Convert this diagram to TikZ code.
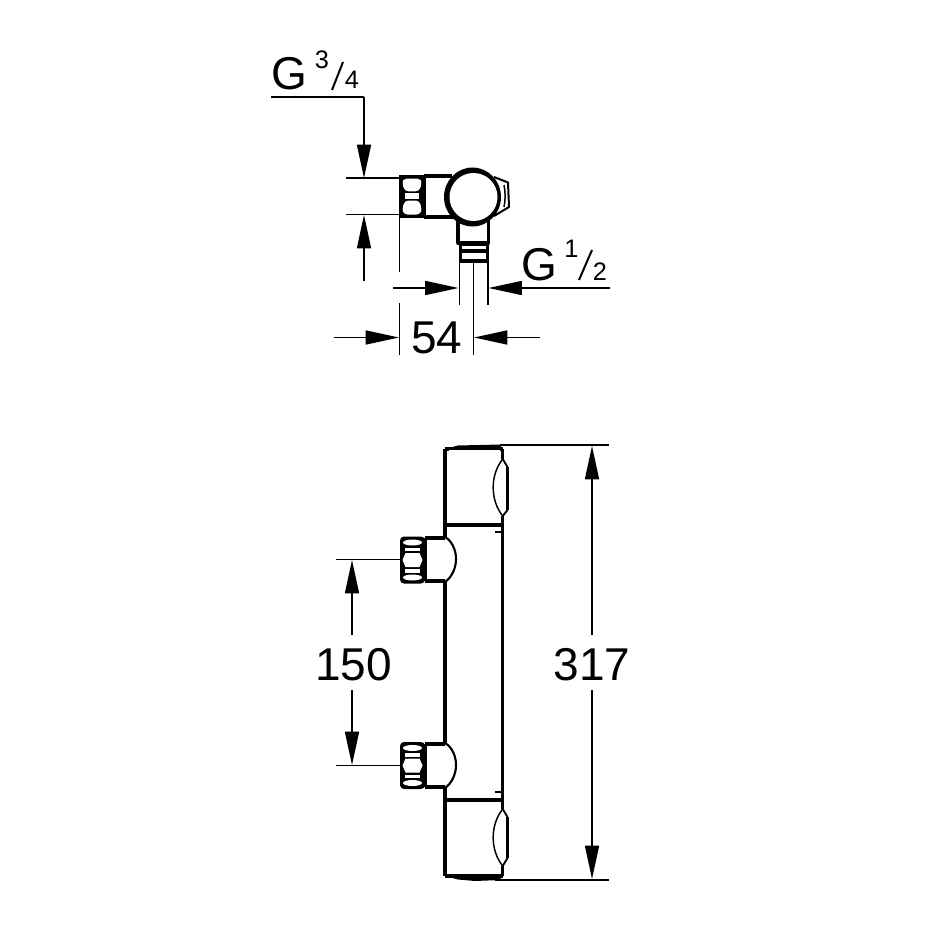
\documentclass[tikz,border=0pt]{standalone}
\usepackage{fontspec}
\setmainfont{Liberation Sans}
\usetikzlibrary{arrows.meta,shapes.geometric}
\tikzset{
  dim/.style={line width=1.2pt,draw=black},
  dimarrow/.style={dim,-{Triangle[length=25pt,width=10.5pt]}},
  thick body/.style={line width=2.3pt,draw=black,line join=round},
  mid body/.style={line width=1.9pt,draw=black,line join=round},
  thin body/.style={line width=1.1pt,draw=black,line join=round},
  big/.style={inner sep=0pt,font=\fontsize{34.5pt}{36pt}\selectfont},
  small/.style={inner sep=0pt,font=\fontsize{19pt}{20pt}\selectfont},
  slash/.style={line width=1.5pt,draw=black}
}
\newcommand{\sidenut}[2]{%
  \begin{scope}[shift={(#1,#2)}]
    \fill[black,rounded corners=3pt] (-12.5,-23.5) rectangle (12.5,23.5);
    \fill[white] (0,-17.5) ellipse [x radius=9.5,y radius=3];
    \fill[white] (0,17.5) ellipse [x radius=9.5,y radius=3];
    \fill[white] (-7.5,-12.5) rectangle (7.5,-9);
    \fill[white] (-7.5,9) rectangle (7.5,12.5);
    \fill[white] (-7,-7) -- (7,-7) -- (10,0) -- (7,7) -- (-7,7) -- (-10,0) -- cycle;
  \end{scope}}
\begin{document}
\begin{tikzpicture}[x=0.75pt,y=-0.75pt]
\useasboundingbox (0,0) rectangle (945,945);
% ---- top view ----
\fill[black] (399,175) rectangle (424.5,218);
\fill[white,rounded corners=2.5pt] (404,178.5) -- (420,178.5) -- (422,183) -- (419,191.3) -- (405,191.3) -- (402,183) -- cycle;
\fill[white,rounded corners=2.5pt] (405,200.5) -- (419,200.5) -- (422,209) -- (420,214.5) -- (404,214.5) -- (402,209) -- cycle;
\fill[white] (405,193.2) rectangle (419,198.8);
\draw[thick body] (424,176) -- (452,176) (424,217) -- (456,217) (424,176) -- (424,217);
\draw[thin body,line width=1.5pt] (494,177) -- (508,182.5) -- (509,207) -- (494,216);
\draw[thin body] (504,185) .. controls (505.5,192) and (505.5,200) .. (504,207);
\draw[thick body] (458,220) -- (458,243) -- (488.5,243) -- (488.5,220);
\draw[thick body] (460.5,244) rectangle (487.5,261);
\draw[line width=2.4pt] (460.5,251) -- (487.5,251);
\node[ellipse,fill=black,minimum width=42.75pt,minimum height=44.25pt,inner sep=0pt] (ringout) at (472.5,197) {};
\node[circle,fill=white,minimum size=36pt,inner sep=0pt] (ring) at (473.5,197) {};
% ---- top view dimensions ----
\coordinate (a0) at (271,97); \coordinate (a1) at (364,97); \coordinate (a2) at (364,178);
\draw[dim] (a0) -- (a1);
\draw[dimarrow] (a1) -- (a2);
\draw[dimarrow] (364,281) -- (364,215);
\draw[dim] (346,178) -- (399,178) (346,214.5) -- (399,214.5);
\draw[dim] (399.5,218) -- (399.5,272) (399.5,303) -- (399.5,355);
\draw[dim] (459.5,262) -- (459.5,305) (473.5,262) -- (473.5,355) (488,262) -- (488,305);
\draw[dimarrow] (393,288) -- (458.5,288);
\draw[dimarrow] (610,288) -- (488.5,288);
\draw[dimarrow] (334,337.5) -- (399,337.5);
\draw[dimarrow] (540,337.5) -- (474,337.5);
\node[big,anchor=base] (t54) at (437,353) {54};
\node[big,anchor=base west] (g1) at (271.5,90) {G};
\node[small,anchor=base west] (n3) at (314.5,69) {3};
\draw[slash] (332,90) -- (343,62);
\node[small,anchor=base west] (n4) at (344.5,89) {4};
\node[big,anchor=base west] (g2) at (521.5,280) {G};
\node[small,anchor=base west] (n1) at (564,257) {1};
\draw[slash] (579,280) -- (592,250);
\node[small,anchor=base west] (n2) at (592.5,280) {2};
% ---- front view body ----
\draw[thick body] (445,449) -- (445,537) (445,582) -- (445,743) (445,788) -- (445,876);
\draw[mid body] (502.7,449) -- (502.7,459) (502.7,516) -- (502.7,809) (502.7,866) -- (502.7,876);
\draw[thick body] (445,449) -- (502.7,449);
\fill (445,449) -- (458,445.5) -- (500,444.5) -- (502,448) -- cycle;
\fill[white] (449,450) rectangle (500,452);
\draw[thick body] (445,525) -- (502.7,525);
\draw[thick body] (445,800) -- (502.7,800);
\draw[line width=2.2pt] (495,532) -- (502.7,532) (495,792) -- (502.7,792);
\draw[thick body] (445,876) -- (502.7,876);
\fill (445,876) -- (458,879.5) -- (475,881) -- (500,880) -- (502,875) -- cycle;
% knobs
\draw[thin body] (502.7,459) .. controls (490,475) and (490,500) .. (502.7,516);
\draw[thin body,line width=1.4pt] (502.7,459) -- (507.5,467) (507.5,510) -- (502.7,516);
\draw[line width=2.4pt] (507.5,467) -- (507.5,510);
\draw[thin body] (502.7,809) .. controls (490,825) and (490,850) .. (502.7,866);
\draw[thin body,line width=1.4pt] (502.7,809) -- (507.5,817) (507.5,858) -- (502.7,866);
\draw[line width=2.4pt] (507.5,817) -- (507.5,858);
% inlets
\draw[thick body] (425,538) -- (445,538) (425,581) -- (445,581) (425,538) -- (425,581);
\draw[thin body,line width=1.6pt] (445,537) .. controls (452,541) and (456,550) .. (456,559) .. controls (456,568) and (452,577) .. (445,582);
\sidenut{412.5}{560}
\draw[thick body] (425,744) -- (445,744) (425,787) -- (445,787) (425,744) -- (425,787);
\draw[thin body,line width=1.6pt] (445,743) .. controls (452,747) and (456,756) .. (456,765) .. controls (456,774) and (452,783) .. (445,788);
\sidenut{412.5}{765.5}
% ---- front view dimensions ----
\draw[dim] (336,559.5) -- (400,559.5) (336,765.5) -- (400,765.5);
\draw[dim] (500,445) -- (609,445) (495,880) -- (609,880);
\draw[dimarrow] (352,635) -- (352,560);
\draw[dimarrow] (352,690) -- (352,765);
\draw[dimarrow] (592,635) -- (592,446);
\draw[dimarrow] (592,690) -- (592,879);
\node[big,anchor=base] (t150) at (353.5,680) {150};
\node[big,anchor=base] (t317) at (592,680) {317};
\end{tikzpicture}
\end{document}
